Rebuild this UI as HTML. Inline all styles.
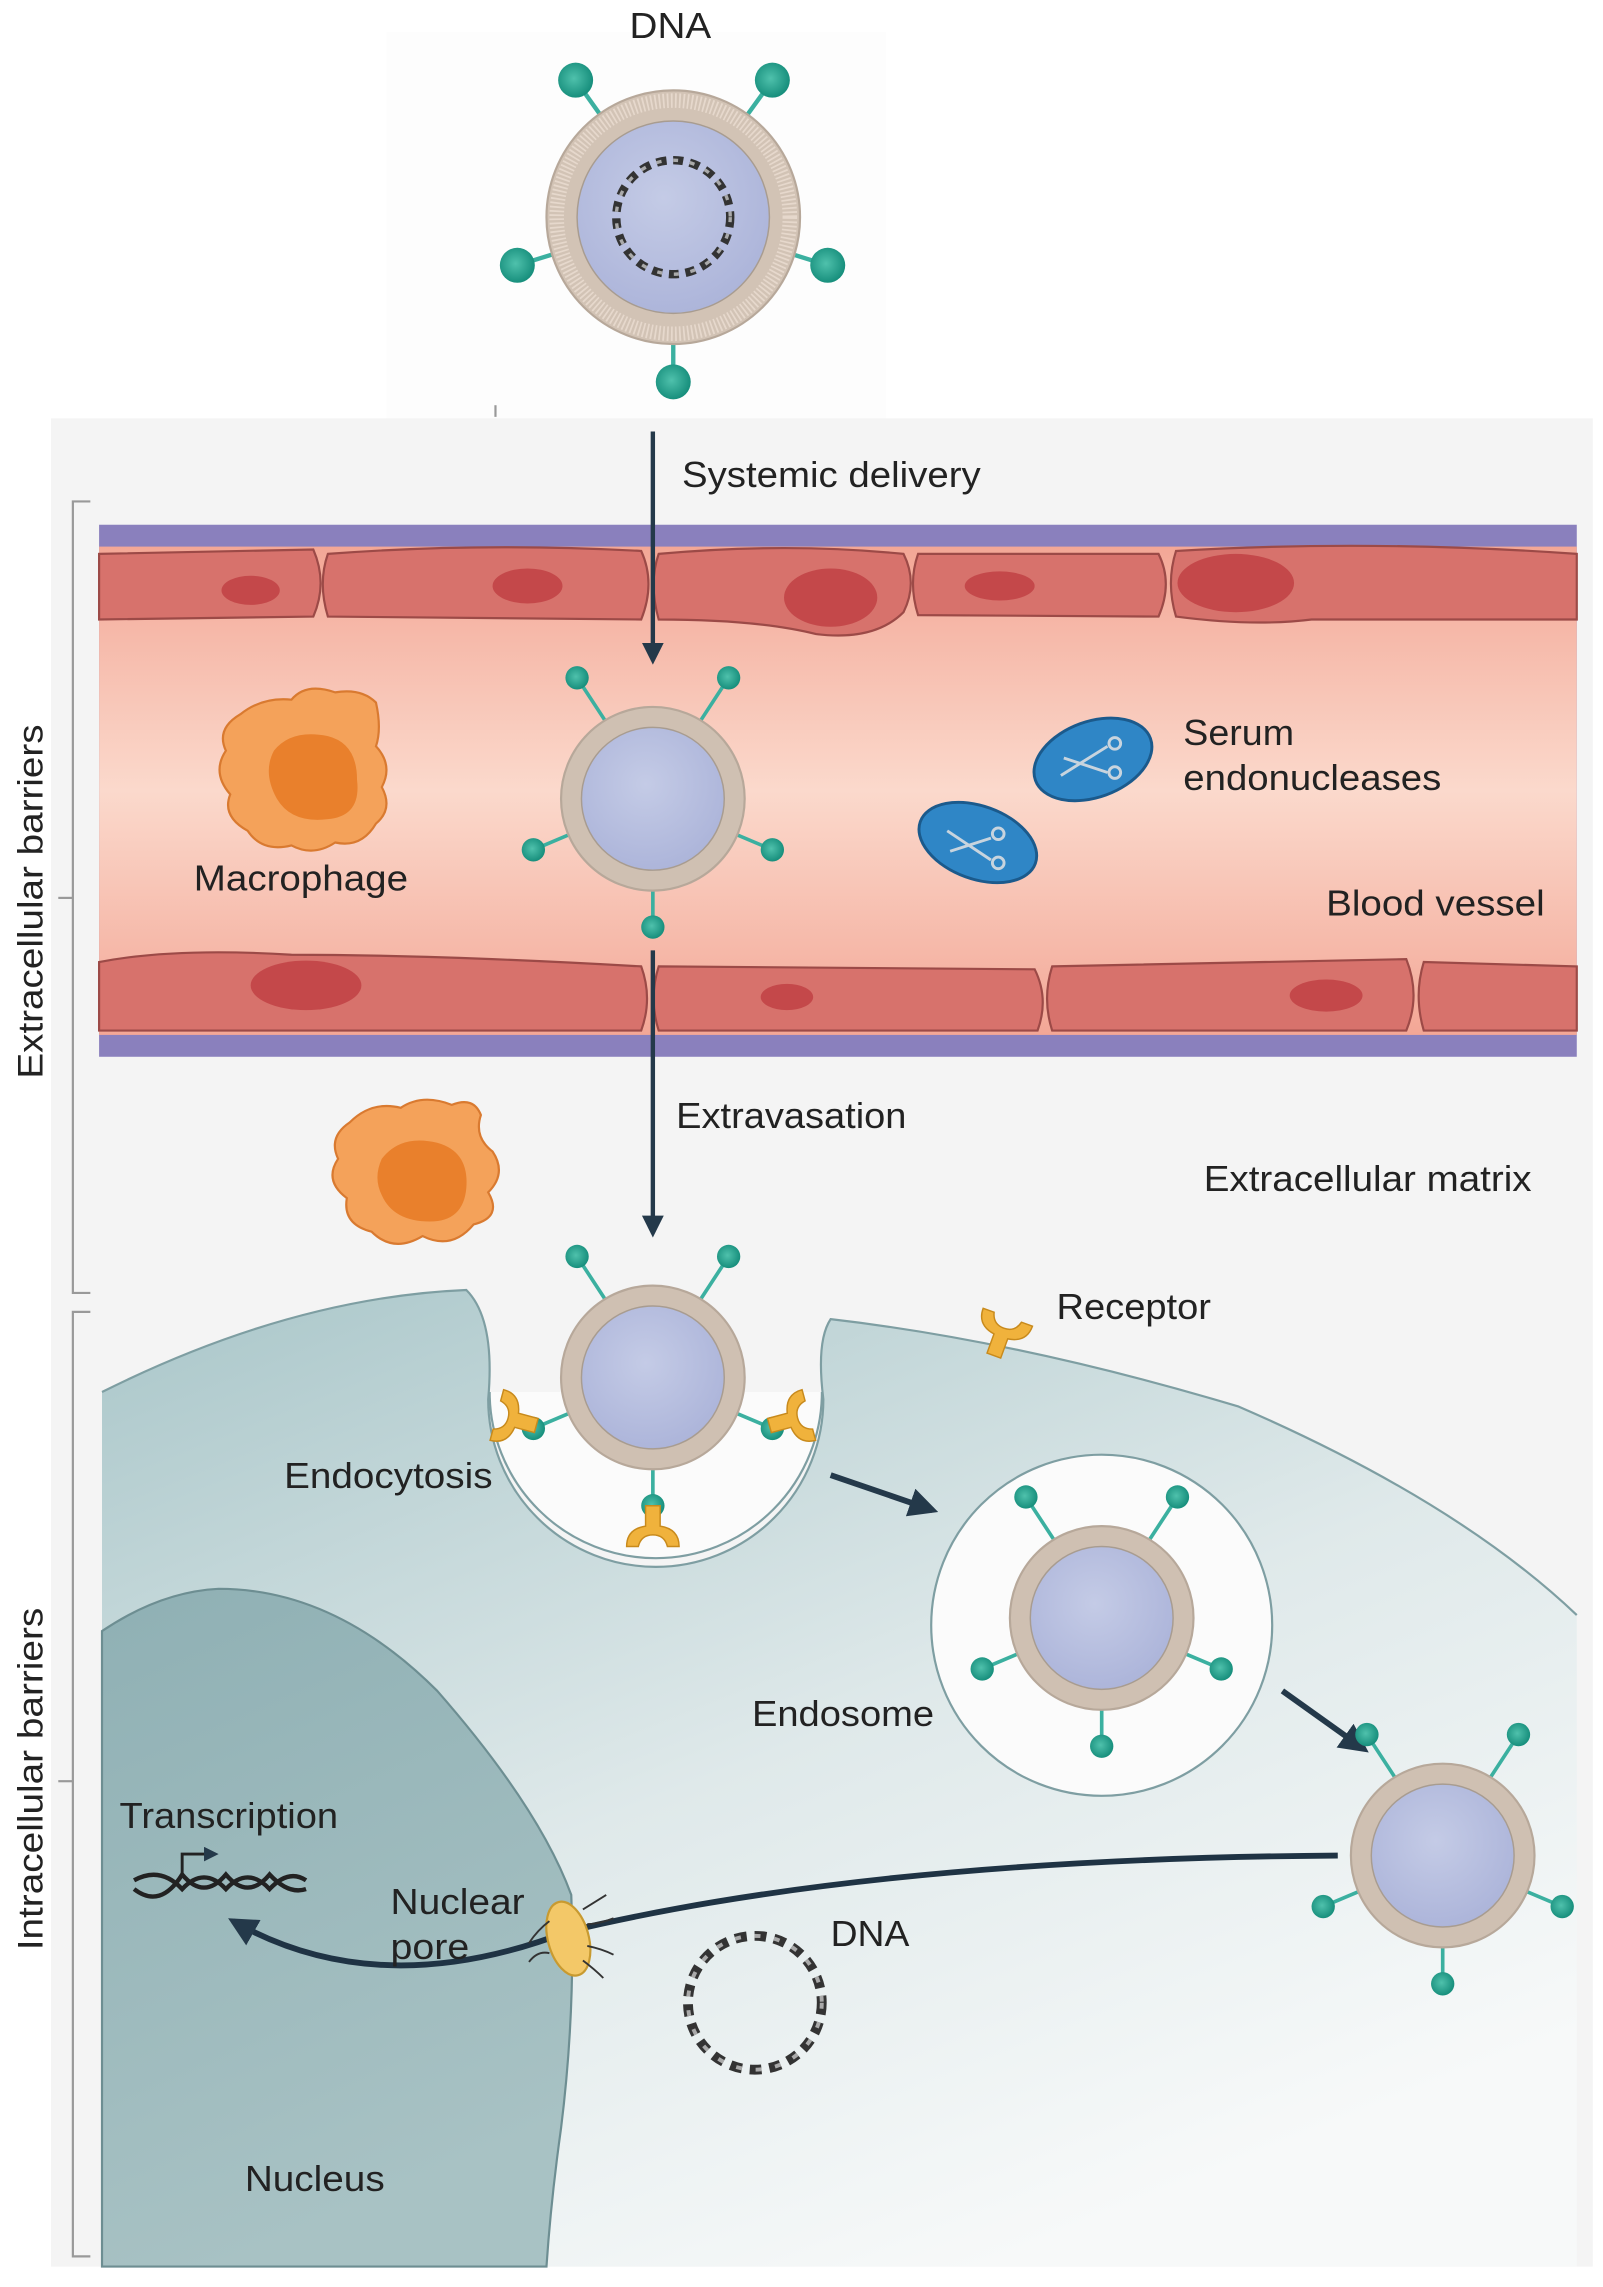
<!DOCTYPE html>
<html><head><meta charset="utf-8"><style>
html,body{margin:0;padding:0;background:#fff;}
svg{display:block;}
text{font-family:"Liberation Sans",sans-serif;fill:#222;}
</style></head><body>
<svg width="1603" height="2287" viewBox="0 0 1100 1569" preserveAspectRatio="none" xmlns="http://www.w3.org/2000/svg">
<defs>
<linearGradient id="lumen" x1="0" y1="0" x2="0" y2="1">
<stop offset="0" stop-color="#f3a796"/><stop offset="0.5" stop-color="#fbd9cc"/><stop offset="1" stop-color="#f3a796"/></linearGradient>
<linearGradient id="cellg" x1="0" y1="0" x2="0.6" y2="1">
<stop offset="0" stop-color="#a9c6c9"/><stop offset="0.55" stop-color="#dfe9ea"/><stop offset="1" stop-color="#f7f9f9"/></linearGradient>
<linearGradient id="nucg" x1="0" y1="0" x2="0.3" y2="1">
<stop offset="0" stop-color="#8fb0b4"/><stop offset="1" stop-color="#a8c2c4"/></linearGradient>
<radialGradient id="core" cx="0.45" cy="0.4" r="0.6"><stop offset="0" stop-color="#c4cbe6"/><stop offset="1" stop-color="#adb5da"/></radialGradient>
<radialGradient id="dot" cx="0.45" cy="0.45" r="0.6"><stop offset="0" stop-color="#4fc1ac"/><stop offset="1" stop-color="#128a78"/></radialGradient>
<g id="np">
<line x1="-33" y1="-54" x2="-52" y2="-83" stroke="#3bb0a0" stroke-width="2.5"/>
<line x1="33" y1="-54" x2="52" y2="-83" stroke="#3bb0a0" stroke-width="2.5"/>
<line x1="-56" y1="24" x2="-82" y2="35" stroke="#3bb0a0" stroke-width="2.5"/>
<line x1="56" y1="24" x2="82" y2="35" stroke="#3bb0a0" stroke-width="2.5"/>
<line x1="0" y1="60" x2="0" y2="88" stroke="#3bb0a0" stroke-width="2.5"/>
<circle r="63" fill="#cfc0b2" stroke="#b7a89a" stroke-width="1.5"/>
<circle r="49" fill="url(#core)" stroke="#a89c90" stroke-width="1"/>
<circle cx="-52" cy="-83" r="8" fill="url(#dot)"/>
<circle cx="52" cy="-83" r="8" fill="url(#dot)"/>
<circle cx="-82" cy="35" r="8" fill="url(#dot)"/>
<circle cx="82" cy="35" r="8" fill="url(#dot)"/>
<circle cx="0" cy="88" r="8" fill="url(#dot)"/>
</g>
<g id="rec">
<path d="M-5 0 L-5 -14 Q-18 -16 -18 -28 L-10 -28 Q-8 -20 0 -20 Q8 -20 10 -28 L18 -28 Q18 -16 5 -14 L5 0 Z" fill="#f0b23c" stroke="#c88a1c" stroke-width="1"/>
</g>
<g id="dnaring">
<circle r="34" fill="none" stroke="#333" stroke-width="5" stroke-dasharray="6 4"/>
<circle r="34" fill="none" stroke="#aaa" stroke-width="2" stroke-dasharray="3 7"/>
</g>
<marker id="ah" viewBox="0 0 10 10" refX="8" refY="5" markerWidth="5" markerHeight="5" orient="auto"><path d="M0 0 L10 5 L0 10 Z" fill="#24394a"/></marker>
</defs>

<rect x="265" y="22" width="343" height="265" fill="#fdfdfd"/>
<rect x="35" y="287" width="1058" height="1268" fill="#f4f4f4"/>

<!-- top particle -->
<g stroke="#3bb0a0" stroke-width="3">
<line x1="462" y1="149" x2="395" y2="55"/><line x1="462" y1="149" x2="530" y2="55"/>
<line x1="462" y1="149" x2="355" y2="182"/><line x1="462" y1="149" x2="568" y2="182"/>
<line x1="462" y1="149" x2="462" y2="262"/>
</g>
<circle cx="462" cy="149" r="87" fill="#d2c3b5" stroke="#b7a89a" stroke-width="1.5"/>
<circle cx="462" cy="149" r="80" fill="none" stroke="#e6d8cc" stroke-width="10" stroke-dasharray="1.2 1.6"/>
<circle cx="462" cy="149" r="66" fill="url(#core)" stroke="#a89c90" stroke-width="1"/>
<g transform="translate(462,149) scale(1.15)"><use href="#dnaring"/></g>
<g fill="url(#dot)">
<circle cx="395" cy="55" r="12"/><circle cx="530" cy="55" r="12"/>
<circle cx="355" cy="182" r="12"/><circle cx="568" cy="182" r="12"/>
<circle cx="462" cy="262" r="12"/>
</g>
<text x="432" y="26" font-size="25" textLength="56" lengthAdjust="spacingAndGlyphs">DNA</text>
<line x1="340" y1="278" x2="340" y2="286" stroke="#999" stroke-width="1.5"/>

<!-- brackets -->
<path d="M62 344 L50 344 L50 887 L62 887" fill="none" stroke="#999" stroke-width="1.5"/>
<line x1="40" y1="616" x2="50" y2="616" stroke="#999" stroke-width="1.5"/>
<path d="M62 900 L50 900 L50 1548 L62 1548" fill="none" stroke="#999" stroke-width="1.5"/>
<line x1="40" y1="1222" x2="50" y2="1222" stroke="#999" stroke-width="1.5"/>
<text transform="translate(29,740) rotate(-90)" font-size="24" textLength="243" lengthAdjust="spacingAndGlyphs">Extracellular barriers</text>
<text transform="translate(29,1338) rotate(-90)" font-size="24" textLength="235" lengthAdjust="spacingAndGlyphs">Intracellular barriers</text>

<!-- blood vessel -->
<rect x="68" y="360" width="1014" height="365" fill="#8a80bd"/>
<rect x="68" y="375" width="1014" height="335" fill="url(#lumen)"/>
<g fill="#d7726c" stroke="#9c4a47" stroke-width="1.5">
<path d="M68 380 L215 377 Q225 400 215 423 L68 425 Z"/>
<path d="M225 380 Q330 372 440 378 Q450 400 440 425 L225 423 Q218 400 225 380Z"/>
<path d="M452 380 Q540 372 620 380 Q630 400 620 420 Q600 440 560 435 Q520 425 452 425 Q445 400 452 380Z"/>
<path d="M630 380 L795 380 Q805 400 795 423 L630 422 Q623 400 630 380Z"/>
<path d="M807 378 Q940 370 1082 380 L1082 425 L900 425 Q860 430 807 423 Q800 400 807 378Z"/>
<path d="M68 660 Q120 650 200 655 Q300 655 440 663 Q448 685 440 707 L68 707 Z"/>
<path d="M452 663 L710 665 Q720 685 712 707 L452 707 Q445 685 452 663Z"/>
<path d="M722 663 Q850 660 965 658 Q975 683 965 707 L722 707 Q715 685 722 663Z"/>
<path d="M977 660 L1082 663 L1082 707 L977 707 Q970 683 977 660Z"/>
</g>
<g fill="#c4484a">
<ellipse cx="172" cy="405" rx="20" ry="10"/>
<ellipse cx="362" cy="402" rx="24" ry="12"/>
<ellipse cx="570" cy="410" rx="32" ry="20"/>
<ellipse cx="686" cy="402" rx="24" ry="10"/>
<ellipse cx="848" cy="400" rx="40" ry="20"/>
<ellipse cx="210" cy="676" rx="38" ry="17"/>
<ellipse cx="540" cy="684" rx="18" ry="9"/>
<ellipse cx="910" cy="683" rx="25" ry="11"/>
</g>

<!-- macrophages -->
<path d="M165 490 Q180 478 200 480 Q210 468 230 475 Q248 472 258 482 Q262 500 258 512 Q270 525 262 540 Q270 555 258 565 Q248 582 230 578 Q215 588 200 580 Q180 585 170 570 Q152 560 158 545 Q145 530 155 515 Q148 500 165 490Z" fill="#f4a25a" stroke="#d97a30" stroke-width="1.5"/>
<path d="M188 515 Q200 500 225 505 Q245 510 245 535 Q248 560 225 562 Q200 565 190 548 Q180 530 188 515Z" fill="#e9802c"/>
<path d="M240 770 Q255 755 275 760 Q290 750 310 758 Q325 752 330 765 Q325 780 338 790 Q348 805 335 818 Q345 835 325 840 Q310 858 290 848 Q270 860 255 845 Q235 840 238 822 Q222 810 232 795 Q225 780 240 770Z" fill="#f4a25a" stroke="#d97a30" stroke-width="1.5"/>
<path d="M262 795 Q275 778 300 784 Q322 790 320 815 Q318 838 295 838 Q270 838 262 820 Q256 808 262 795Z" fill="#e9802c"/>
<text x="133" y="611" font-size="25" textLength="147" lengthAdjust="spacingAndGlyphs">Macrophage</text>

<g transform="translate(448,548)"><use href="#np"/></g>

<!-- endonucleases -->
<ellipse cx="750" cy="521" rx="42" ry="26" transform="rotate(-20 750 521)" fill="#2f86c6" stroke="#1b5a8c" stroke-width="2"/>
<ellipse cx="671" cy="578" rx="42" ry="25" transform="rotate(20 671 578)" fill="#2f86c6" stroke="#1b5a8c" stroke-width="2"/>
<g stroke="#c8d4de" stroke-width="2" fill="none">
<path d="M728 532 L760 512 M730 520 L760 530"/><circle cx="765" cy="510" r="4"/><circle cx="765" cy="530" r="4"/>
<path d="M650 570 L680 590 M652 584 L680 575"/><circle cx="685" cy="572" r="4"/><circle cx="685" cy="592" r="4"/>
</g>
<text x="812" y="511" font-size="25" textLength="76" lengthAdjust="spacingAndGlyphs">Serum</text>
<text x="812" y="542" font-size="25" textLength="177" lengthAdjust="spacingAndGlyphs">endonucleases</text>
<text x="910" y="628" font-size="25" textLength="150" lengthAdjust="spacingAndGlyphs">Blood vessel</text>

<line x1="448" y1="296" x2="448" y2="453" stroke="#24394a" stroke-width="3" marker-end="url(#ah)"/>
<line x1="448" y1="652" x2="448" y2="846" stroke="#24394a" stroke-width="3" marker-end="url(#ah)"/>
<text x="468" y="334" font-size="25" textLength="205" lengthAdjust="spacingAndGlyphs">Systemic delivery</text>
<text x="464" y="774" font-size="25" textLength="158" lengthAdjust="spacingAndGlyphs">Extravasation</text>
<text x="826" y="817" font-size="25" textLength="225" lengthAdjust="spacingAndGlyphs">Extracellular matrix</text>

<!-- cell -->
<path d="M70 955 Q200 890 320 885 Q340 905 335 960 A115 115 0 0 0 565 960 Q560 920 570 905 Q700 920 850 965 Q1000 1030 1082 1108 L1082 1555 L70 1555 Z" fill="url(#cellg)"/>
<path d="M70 955 Q200 890 320 885 Q340 905 335 960 A115 115 0 0 0 565 960 Q560 920 570 905 Q700 920 850 965 Q1000 1030 1082 1108" fill="none" stroke="#7e9ea2" stroke-width="1.5"/>
<path d="M336 955 A114 114 0 0 0 564 955 Z" fill="#fbfbfb"/>
<path d="M336 955 A114 114 0 0 0 564 955" fill="none" stroke="#7e9ea2" stroke-width="1.5"/>
<path d="M70 1119 Q110 1092 150 1090 Q230 1090 300 1160 Q370 1240 392 1300 Q395 1380 385 1460 Q378 1510 375 1555 L70 1555 Z" fill="url(#nucg)" stroke="#6d8e92" stroke-width="1.5"/>

<g transform="translate(448,945)"><use href="#np"/></g>
<g transform="translate(368,978) rotate(-75)"><use href="#rec"/></g>
<g transform="translate(528,978) rotate(75)"><use href="#rec"/></g>
<g transform="translate(448,1033) rotate(180)"><use href="#rec"/></g>
<g transform="translate(682,930) rotate(20)"><use href="#rec"/></g>
<text x="725" y="905" font-size="25" textLength="106" lengthAdjust="spacingAndGlyphs">Receptor</text>
<text x="195" y="1021" font-size="25" textLength="143" lengthAdjust="spacingAndGlyphs">Endocytosis</text>

<circle cx="756" cy="1115" r="117" fill="#fbfbfb" stroke="#7e9ea2" stroke-width="1.5"/>
<g transform="translate(756,1110)"><use href="#np"/></g>
<text x="516" y="1184" font-size="25" textLength="125" lengthAdjust="spacingAndGlyphs">Endosome</text>
<line x1="570" y1="1012" x2="640" y2="1036" stroke="#24394a" stroke-width="4" marker-end="url(#ah)"/>
<line x1="880" y1="1160" x2="936" y2="1200" stroke="#24394a" stroke-width="4" marker-end="url(#ah)"/>

<g transform="translate(990,1273)"><use href="#np"/></g>

<path d="M918 1273 Q600 1275 390 1325 Q260 1375 160 1318" fill="none" stroke="#1f3344" stroke-width="4" marker-end="url(#ah)"/>
<ellipse cx="390" cy="1330" rx="14" ry="26" fill="#f3c868" stroke="#c89a30" stroke-width="1.5" transform="rotate(-15 390 1330)"/>
<g stroke="#333" stroke-width="1.3" fill="none">
<path d="M400 1310 q8 -5 16 -10 M403 1320 q8 0 18 -4 M403 1335 q10 2 18 6 M400 1345 q8 6 14 12 M377 1318 q-8 6 -14 15 M377 1340 q-8 -2 -14 6"/>
</g>
<text x="268" y="1313" font-size="25" textLength="92" lengthAdjust="spacingAndGlyphs">Nuclear</text>
<text x="268" y="1344" font-size="25" textLength="54" lengthAdjust="spacingAndGlyphs">pore</text>

<g transform="translate(518,1374) scale(1.35)"><use href="#dnaring"/></g>
<text x="570" y="1335" font-size="25" textLength="54" lengthAdjust="spacingAndGlyphs">DNA</text>

<text x="82" y="1254" font-size="25" textLength="150" lengthAdjust="spacingAndGlyphs">Transcription</text>
<path d="M92 1290 Q110 1280 125 1296 Q140 1280 155 1296 Q170 1280 185 1296 Q198 1282 210 1290 M92 1296 Q110 1310 125 1286 Q140 1304 155 1286 Q170 1304 185 1286 Q198 1300 210 1296" fill="none" stroke="#222" stroke-width="3"/>
<path d="M125 1288 L125 1272 L148 1272" fill="none" stroke="#222" stroke-width="2" marker-end="url(#ah)"/>
<text x="168" y="1503" font-size="25" textLength="96" lengthAdjust="spacingAndGlyphs">Nucleus</text>
</svg>
</body></html>
